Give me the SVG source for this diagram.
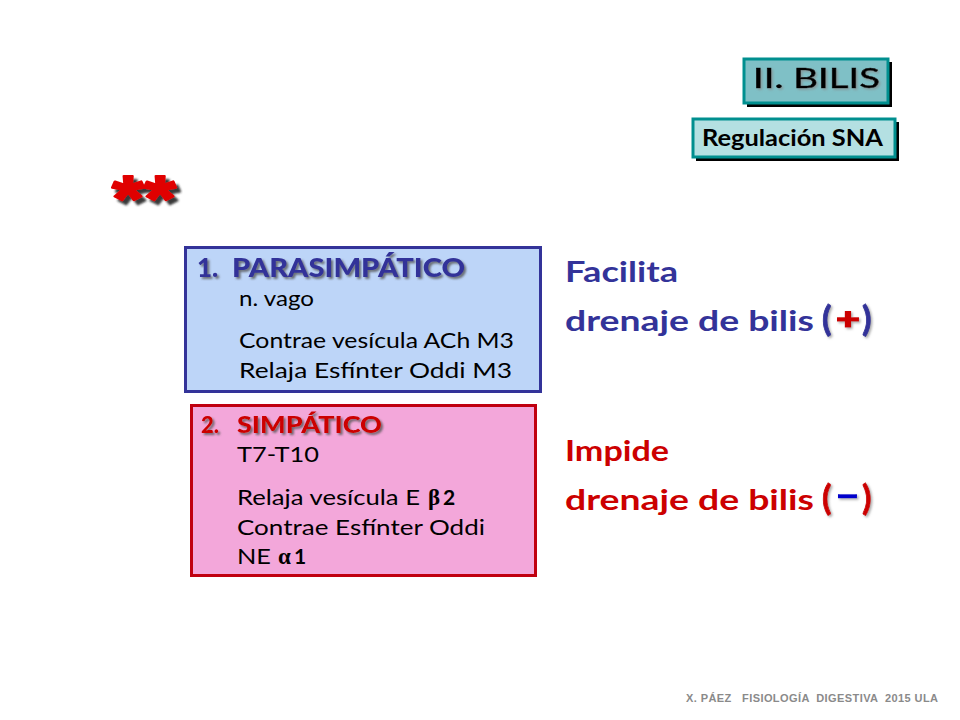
<svg xmlns="http://www.w3.org/2000/svg" width="960" height="720" viewBox="0 0 960 720">
<defs>
<style>
text{font-family:"Lato","Open Sans","Liberation Sans",sans-serif;white-space:pre}
.body{font-size:21px;fill:#000}
.big{font-size:29px;font-weight:700}
.paren{font-size:35px;font-weight:700;stroke-width:.8px}
.blue{fill:#333399}
.red{fill:#cc0000}
.head{font-size:26px;font-weight:900}
.sym{font-family:"Liberation Serif","DejaVu Serif",serif;font-weight:700;font-size:23px}
.foot{font-family:"Liberation Sans",sans-serif;font-size:11px;font-weight:700;fill:#8a8a8a}
</style>
<filter id="soft" x="-10%" y="-20%" width="120%" height="150%"><feDropShadow dx="2" dy="2" stdDeviation="1" flood-color="#555" flood-opacity=".8"/></filter>
<filter id="hard" x="-10%" y="-20%" width="120%" height="150%"><feDropShadow dx="4" dy="4" stdDeviation="1" flood-color="#222" flood-opacity=".9"/></filter>
<filter id="soft2" x="-30%" y="-20%" width="160%" height="150%"><feDropShadow dx="1.5" dy="1.5" stdDeviation="1" flood-color="#888" flood-opacity=".7"/></filter>
</defs>
<rect width="960" height="720" fill="#fff"/>
<g id="titulo">
<rect x="747" y="62" width="145" height="45" fill="#000"/>
<rect x="744" y="59" width="144" height="44" fill="#7fc0c6" stroke="#008f8f" stroke-width="3"/>
<text x="753" y="88" font-size="26" font-weight="400" fill="#000" stroke="#000" stroke-width=".5" filter="url(#soft2)" textLength="127" lengthAdjust="spacingAndGlyphs">II. BILIS</text>
</g>
<g id="subtitulo">
<rect x="696" y="122" width="203" height="39" fill="#000"/>
<rect x="693" y="119" width="202" height="38" fill="#b4e0e2" stroke="#008f8f" stroke-width="3"/>
<text x="702" y="146" font-size="22" font-weight="700" fill="#000" textLength="181" lengthAdjust="spacingAndGlyphs">Regulación SNA</text>
</g>
<g id="asteriscos">
<text x="112" y="221" font-size="64" font-weight="900" fill="#e00000" stroke="#e00000" stroke-width="2" stroke-linejoin="round" filter="url(#hard)" style="font-family:'Liberation Sans',sans-serif" textLength="64" lengthAdjust="spacingAndGlyphs">**</text>
</g>
<g id="parasimpatico">
<rect x="185.500" y="247.500" width="355" height="144" fill="#bdd5f8" stroke="#333399" stroke-width="3"/>
<g filter="url(#soft)">
<text x="197" y="277" class="head blue">1.</text>
<text x="232" y="277" class="head blue" textLength="233" lengthAdjust="spacingAndGlyphs">PARASIMPÁTICO</text>
</g>
<text x="239" y="306" class="body" textLength="75" lengthAdjust="spacingAndGlyphs">n. vago</text>
<text x="239" y="348" class="body" textLength="275" lengthAdjust="spacingAndGlyphs">Contrae vesícula ACh M3</text>
<text x="239" y="378" class="body" textLength="273" lengthAdjust="spacingAndGlyphs">Relaja Esfínter Oddi M3</text>
</g>
<g id="simpatico">
<rect x="191.500" y="405.500" width="344" height="170" fill="#f3a7da" stroke="#c00010" stroke-width="3"/>
<g filter="url(#soft)">
<text x="201" y="433" font-size="22" font-weight="900" class="red">2.</text>
<text x="237" y="433" font-size="22" font-weight="900" class="red" textLength="145" lengthAdjust="spacingAndGlyphs">SIMPÁTICO</text>
</g>
<text x="237" y="462" class="body" textLength="82" lengthAdjust="spacingAndGlyphs">T7-T10</text>
<text x="237" y="505" class="body" textLength="183" lengthAdjust="spacingAndGlyphs">Relaja vesícula E</text>
<text x="428" y="505" class="sym">β</text><text x="443" y="505" font-size="21" font-weight="700">2</text>
<text x="237" y="535" class="body" textLength="248" lengthAdjust="spacingAndGlyphs">Contrae Esfínter Oddi</text>
<text x="237" y="564" class="body" textLength="34" lengthAdjust="spacingAndGlyphs">NE</text>
<text x="278" y="564" class="sym">α</text><text x="294" y="564" font-size="21" font-weight="700">1</text>
</g>
<g id="facilita">
<text x="565" y="282" class="big blue" textLength="113" lengthAdjust="spacingAndGlyphs">Facilita</text>
<text x="565" y="331" class="big blue" textLength="249" lengthAdjust="spacingAndGlyphs">drenaje de bilis</text>
<text x="822" y="331" class="paren blue" stroke="#333399" filter="url(#soft2)">(</text>
<text x="836" y="330" font-size="30" font-weight="900" fill="#cc0000" stroke="#cc0000" stroke-width="1.2" filter="url(#soft2)" textLength="24" lengthAdjust="spacingAndGlyphs">+</text>
<text x="862" y="331" class="paren blue" stroke="#333399" filter="url(#soft2)">)</text>
</g>
<g id="impide">
<text x="565" y="461" class="big red" textLength="104" lengthAdjust="spacingAndGlyphs">Impide</text>
<text x="565" y="510" class="big red" textLength="249" lengthAdjust="spacingAndGlyphs">drenaje de bilis</text>
<text x="822" y="510" class="paren red" stroke="#cc0000" filter="url(#soft2)">(</text>
<text x="835" y="506" font-size="30" font-weight="900" fill="#0000cc" stroke="#0000cc" stroke-width=".6" filter="url(#soft2)" textLength="25" lengthAdjust="spacingAndGlyphs">-</text>
<text x="862" y="510" class="paren red" stroke="#cc0000" filter="url(#soft2)">)</text>
</g>
<g id="pie">
<text x="686" y="702" class="foot" textLength="252" lengthAdjust="spacing">X. PÁEZ   FISIOLOGÍA  DIGESTIVA  2015 ULA</text>
</g>
</svg>
